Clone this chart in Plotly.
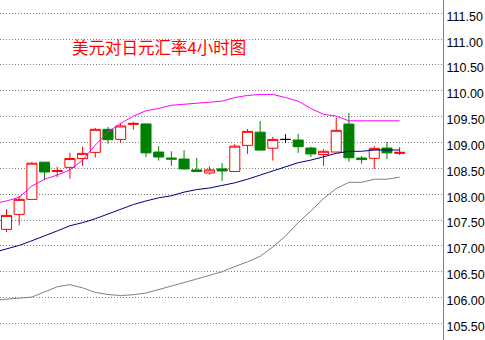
import plotly.graph_objects as go

# ---- data ----
idx = list(range(32))
opens = [107.32, 107.61, 107.90, 108.62, 108.44, 108.52, 108.69, 108.81, 109.255, 109.06,
         109.35, 109.36, 108.816, 108.70, 108.68, 108.47, 108.41, 108.49, 108.44, 108.945,
         109.20, 108.89, 109.06, 109.048, 108.893, 108.77, 108.816, 109.357, 108.70, 108.694,
         108.893, 108.79]
highs = [107.71, 107.97, 108.62, 108.62, 108.53, 108.80, 108.92, 109.28, 109.30, 109.38,
         109.40, 109.36, 108.93, 108.83, 108.85, 108.70, 108.54, 108.60, 108.97, 109.26,
         109.415, 109.11, 109.16, 109.17, 108.92, 108.87, 109.48, 109.57, 108.74, 108.93,
         109.015, 108.91]
lows = [107.27, 107.40, 107.90, 108.27, 108.33, 108.30, 108.55, 108.71, 108.98, 109.00,
        109.25, 108.72, 108.65, 108.55, 108.47, 108.43, 108.38, 108.26, 108.43, 108.78,
        108.85, 108.65, 108.99, 108.80, 108.72, 108.55, 108.816, 108.63, 108.59, 108.49,
        108.68, 108.76]
closes = [107.59, 107.90, 108.60, 108.43, 108.46, 108.69, 108.79, 109.255, 109.055, 109.32,
          109.37, 108.80, 108.72, 108.68, 108.49, 108.44, 108.47, 108.45, 108.93, 109.216,
          108.854, 109.06, 109.06, 108.92, 108.78, 108.83, 109.236, 108.705, 108.67, 108.887,
          108.80, 108.81]

band_idx = list(range(-1, 32))
upper = [107.82, 107.87, 107.94, 108.16, 108.29, 108.37, 108.47, 108.66, 108.95, 109.20,
         109.37, 109.51, 109.615, 109.66, 109.72, 109.74, 109.76, 109.79, 109.80, 109.87,
         109.91, 109.93, 109.93, 109.87, 109.80, 109.66, 109.545, 109.51, 109.42, 109.42,
         109.42, 109.42, 109.42]
middle = [106.875, 106.94, 107.01, 107.10, 107.19, 107.29, 107.39, 107.45, 107.525, 107.615,
          107.71, 107.80, 107.87, 107.93, 107.97, 108.04, 108.09, 108.12, 108.17, 108.22,
          108.29, 108.37, 108.44, 108.535, 108.61, 108.66, 108.72, 108.79, 108.83, 108.83,
          108.855, 108.855, 108.855]
lower = [105.95, 105.965, 105.99, 106.01, 106.11, 106.21, 106.25, 106.19, 106.10, 106.06,
         106.04, 106.055, 106.09, 106.155, 106.21, 106.29, 106.36, 106.425, 106.50, 106.60,
         106.69, 106.80, 106.98, 107.19, 107.45, 107.674, 107.916, 108.11, 108.23, 108.23,
         108.29, 108.29, 108.33]

tick_vals = [105.5, 106.0, 106.5, 107.0, 107.5, 108.0, 108.5, 109.0, 109.5, 110.0, 110.5, 111.0, 111.5]
tick_text = ["%.2f" % v for v in tick_vals]
title_text = "美元对日元汇率4小时图"

# ---- figure ----
fig = go.Figure()

for yv, col in [(lower, "#808080"), (middle, "#000080"), (upper, "#FF00FF")]:
    fig.add_trace(go.Scatter(x=band_idx, y=yv, mode="lines",
                             line=dict(color=col, width=1), hoverinfo="skip",
                             showlegend=False))

norm = [i for i in idx if opens[i] != closes[i]]
doji = [i for i in idx if opens[i] == closes[i]]

fig.add_trace(go.Candlestick(
    x=[idx[i] for i in norm], open=[opens[i] for i in norm], high=[highs[i] for i in norm],
    low=[lows[i] for i in norm], close=[closes[i] for i in norm],
    increasing=dict(line=dict(color="#FF0000", width=1), fillcolor="#FFFFFF"),
    decreasing=dict(line=dict(color="#008000", width=1), fillcolor="#008000"),
    showlegend=False))
fig.add_trace(go.Candlestick(
    x=[idx[i] for i in doji], open=[opens[i] for i in doji], high=[highs[i] for i in doji],
    low=[lows[i] for i in doji], close=[closes[i] for i in doji],
    increasing=dict(line=dict(color="#000000", width=1), fillcolor="#000000"),
    decreasing=dict(line=dict(color="#000000", width=1), fillcolor="#000000"),
    showlegend=False))

fig.add_annotation(text=title_text, xref="paper", yref="paper", x=70 / 443, y=1 - 47 / 340,
                   xanchor="left", yanchor="middle", showarrow=False,
                   font=dict(family="Noto Sans CJK SC", size=16.5, color="#FF0000"))

fig.update_layout(
    width=485, height=340,
    margin=dict(l=0, r=42, t=0, b=0),
    paper_bgcolor="white", plot_bgcolor="white",
    boxgap=0.2, boxgroupgap=0.01,
    showlegend=False,
    xaxis=dict(range=[-0.513, 34.42], showticklabels=False, showgrid=False,
               zeroline=False, showline=False, rangeslider=dict(visible=False), fixedrange=True),
    yaxis=dict(range=[105.18, 111.757], side="right", tickvals=tick_vals, ticktext=tick_text,
               showgrid=True, gridcolor="#808080", griddash="1px,2px", gridwidth=1,
               zeroline=False, showline=True, linecolor="#808080", linewidth=1,
               ticks="", automargin=False, ticklabelshift=3,
               tickfont=dict(family="Liberation Sans", size=12.5, color="#000000")),
)

fig.write_html("out.html")
